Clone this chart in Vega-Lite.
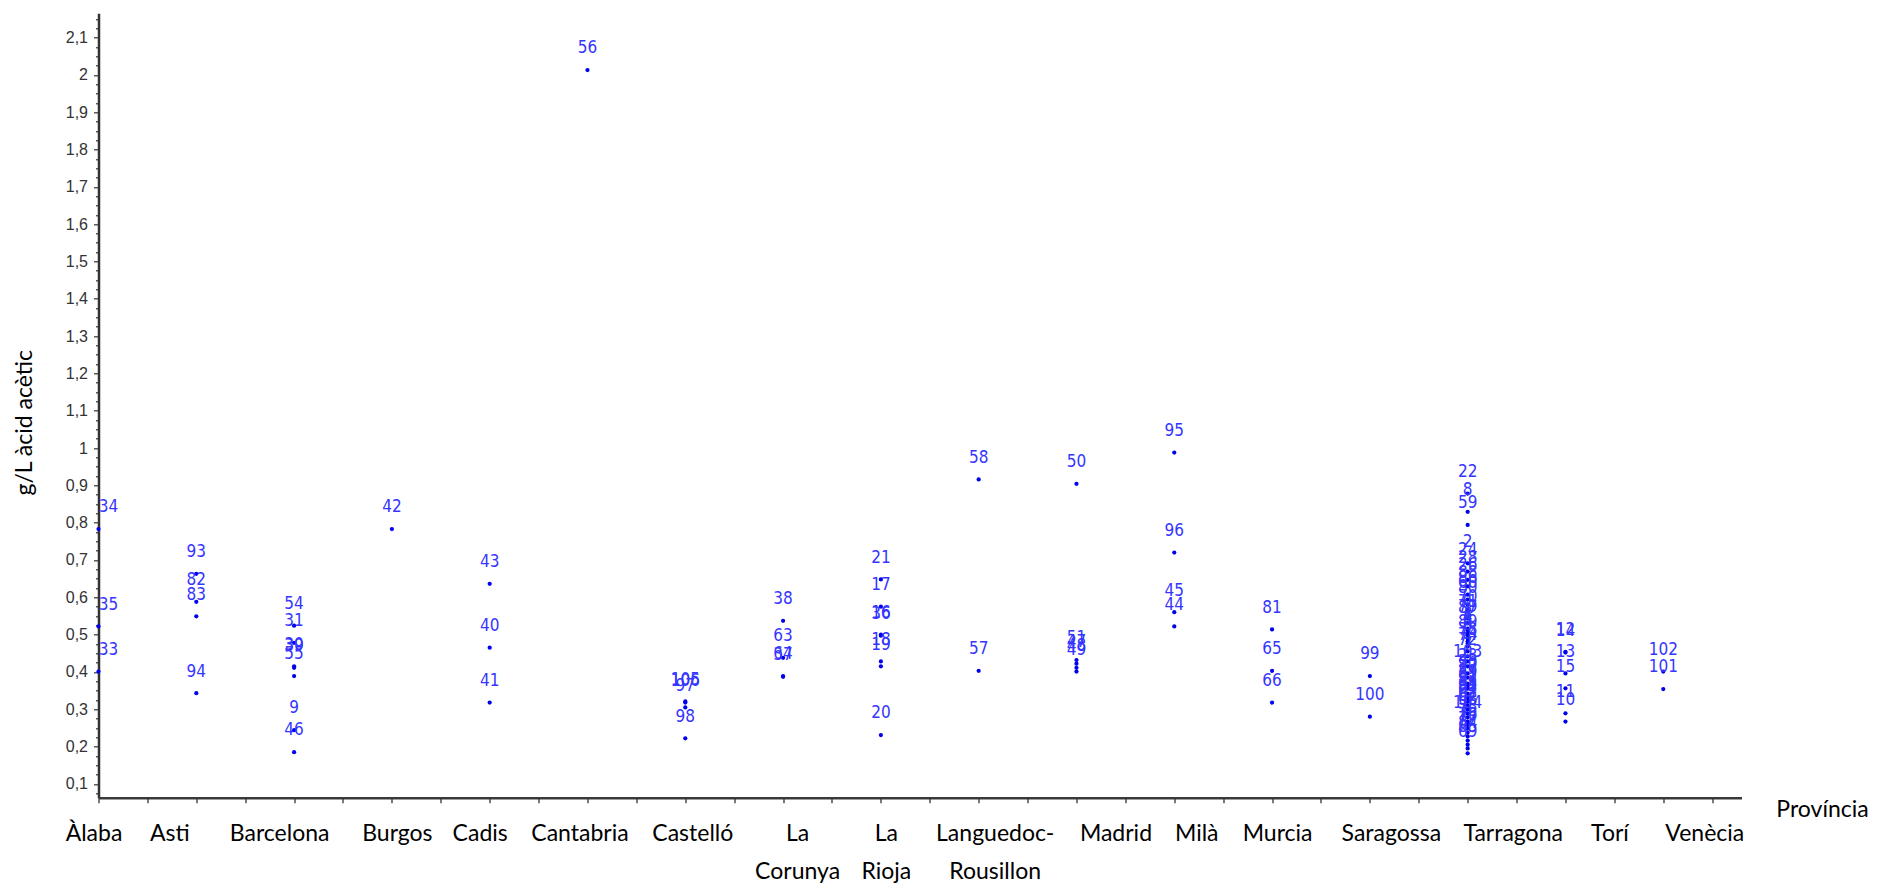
{
  "$schema": "https://vega.github.io/schema/vega-lite/v6.json",
  "width": 1643,
  "height": 784.4,
  "autosize": {"type": "none"},
  "padding": {"left": 98.5, "top": 13.3, "right": 136.5, "bottom": 87.3},
  "background": "white",
  "config": {"view": {"stroke": null}},
  "data": {"values": [
    {"Provincia": "Àlaba", "acid": 0.783, "id": 34},
    {"Provincia": "Àlaba", "acid": 0.522, "id": 35},
    {"Provincia": "Àlaba", "acid": 0.401, "id": 33},
    {"Provincia": "Asti", "acid": 0.663, "id": 93},
    {"Provincia": "Asti", "acid": 0.588, "id": 82},
    {"Provincia": "Asti", "acid": 0.549, "id": 83},
    {"Provincia": "Asti", "acid": 0.343, "id": 94},
    {"Provincia": "Barcelona", "acid": 0.524, "id": 54},
    {"Provincia": "Barcelona", "acid": 0.478, "id": 31},
    {"Provincia": "Barcelona", "acid": 0.415, "id": 30},
    {"Provincia": "Barcelona", "acid": 0.411, "id": 39},
    {"Provincia": "Barcelona", "acid": 0.389, "id": 55},
    {"Provincia": "Barcelona", "acid": 0.244, "id": 9},
    {"Provincia": "Barcelona", "acid": 0.185, "id": 46},
    {"Provincia": "Burgos", "acid": 0.783, "id": 42},
    {"Provincia": "Cadis", "acid": 0.636, "id": 43},
    {"Provincia": "Cadis", "acid": 0.465, "id": 40},
    {"Provincia": "Cadis", "acid": 0.318, "id": 41},
    {"Provincia": "Cantabria", "acid": 2.013, "id": 56},
    {"Provincia": "Castelló", "acid": 0.321, "id": 105},
    {"Provincia": "Castelló", "acid": 0.318, "id": 106},
    {"Provincia": "Castelló", "acid": 0.305, "id": 97},
    {"Provincia": "Castelló", "acid": 0.222, "id": 98},
    {"Provincia": "La Corunya", "acid": 0.537, "id": 38},
    {"Provincia": "La Corunya", "acid": 0.438, "id": 63},
    {"Provincia": "La Corunya", "acid": 0.389, "id": 64},
    {"Provincia": "La Corunya", "acid": 0.387, "id": 37},
    {"Provincia": "La Rioja", "acid": 0.648, "id": 21},
    {"Provincia": "La Rioja", "acid": 0.575, "id": 17},
    {"Provincia": "La Rioja", "acid": 0.5, "id": 16},
    {"Provincia": "La Rioja", "acid": 0.497, "id": 36},
    {"Provincia": "La Rioja", "acid": 0.428, "id": 18},
    {"Provincia": "La Rioja", "acid": 0.415, "id": 19},
    {"Provincia": "La Rioja", "acid": 0.231, "id": 20},
    {"Provincia": "Languedoc-Rousillon", "acid": 0.916, "id": 58},
    {"Provincia": "Languedoc-Rousillon", "acid": 0.403, "id": 57},
    {"Provincia": "Madrid", "acid": 0.904, "id": 50},
    {"Provincia": "Madrid", "acid": 0.432, "id": 51},
    {"Provincia": "Madrid", "acid": 0.422, "id": 47},
    {"Provincia": "Madrid", "acid": 0.411, "id": 48},
    {"Provincia": "Madrid", "acid": 0.401, "id": 49},
    {"Provincia": "Milà", "acid": 0.988, "id": 95},
    {"Provincia": "Milà", "acid": 0.72, "id": 96},
    {"Provincia": "Milà", "acid": 0.56, "id": 45},
    {"Provincia": "Milà", "acid": 0.522, "id": 44},
    {"Provincia": "Murcia", "acid": 0.514, "id": 81},
    {"Provincia": "Murcia", "acid": 0.403, "id": 65},
    {"Provincia": "Murcia", "acid": 0.318, "id": 66},
    {"Provincia": "Saragossa", "acid": 0.389, "id": 99},
    {"Provincia": "Saragossa", "acid": 0.28, "id": 100},
    {"Provincia": "Tarragona", "acid": 0.878, "id": 22},
    {"Provincia": "Tarragona", "acid": 0.829, "id": 8},
    {"Provincia": "Tarragona", "acid": 0.794, "id": 59},
    {"Provincia": "Tarragona", "acid": 0.691, "id": 2},
    {"Provincia": "Tarragona", "acid": 0.669, "id": 24},
    {"Provincia": "Tarragona", "acid": 0.647, "id": 28},
    {"Provincia": "Tarragona", "acid": 0.629, "id": 26},
    {"Provincia": "Tarragona", "acid": 0.607, "id": 88},
    {"Provincia": "Tarragona", "acid": 0.594, "id": 86},
    {"Provincia": "Tarragona", "acid": 0.581, "id": 60},
    {"Provincia": "Tarragona", "acid": 0.567, "id": 80},
    {"Provincia": "Tarragona", "acid": 0.543, "id": 70},
    {"Provincia": "Tarragona", "acid": 0.53, "id": 71},
    {"Provincia": "Tarragona", "acid": 0.516, "id": 79},
    {"Provincia": "Tarragona", "acid": 0.512, "id": 87},
    {"Provincia": "Tarragona", "acid": 0.505, "id": 1},
    {"Provincia": "Tarragona", "acid": 0.498, "id": 3},
    {"Provincia": "Tarragona", "acid": 0.49, "id": 4},
    {"Provincia": "Tarragona", "acid": 0.482, "id": 5},
    {"Provincia": "Tarragona", "acid": 0.476, "id": 89},
    {"Provincia": "Tarragona", "acid": 0.468, "id": 6},
    {"Provincia": "Tarragona", "acid": 0.455, "id": 78},
    {"Provincia": "Tarragona", "acid": 0.442, "id": 74},
    {"Provincia": "Tarragona", "acid": 0.428, "id": 72},
    {"Provincia": "Tarragona", "acid": 0.415, "id": 7},
    {"Provincia": "Tarragona", "acid": 0.396, "id": 103},
    {"Provincia": "Tarragona", "acid": 0.385, "id": 23},
    {"Provincia": "Tarragona", "acid": 0.369, "id": 25},
    {"Provincia": "Tarragona", "acid": 0.362, "id": 90},
    {"Provincia": "Tarragona", "acid": 0.355, "id": 27},
    {"Provincia": "Tarragona", "acid": 0.342, "id": 29},
    {"Provincia": "Tarragona", "acid": 0.331, "id": 32},
    {"Provincia": "Tarragona", "acid": 0.325, "id": 91},
    {"Provincia": "Tarragona", "acid": 0.32, "id": 52},
    {"Provincia": "Tarragona", "acid": 0.31, "id": 53},
    {"Provincia": "Tarragona", "acid": 0.303, "id": 92},
    {"Provincia": "Tarragona", "acid": 0.299, "id": 61},
    {"Provincia": "Tarragona", "acid": 0.288, "id": 62},
    {"Provincia": "Tarragona", "acid": 0.278, "id": 67},
    {"Provincia": "Tarragona", "acid": 0.267, "id": 68},
    {"Provincia": "Tarragona", "acid": 0.258, "id": 104},
    {"Provincia": "Tarragona", "acid": 0.248, "id": 73},
    {"Provincia": "Tarragona", "acid": 0.237, "id": 75},
    {"Provincia": "Tarragona", "acid": 0.227, "id": 76},
    {"Provincia": "Tarragona", "acid": 0.216, "id": 77},
    {"Provincia": "Tarragona", "acid": 0.205, "id": 84},
    {"Provincia": "Tarragona", "acid": 0.195, "id": 85},
    {"Provincia": "Tarragona", "acid": 0.182, "id": 69},
    {"Provincia": "Torí", "acid": 0.454, "id": 12},
    {"Provincia": "Torí", "acid": 0.452, "id": 14},
    {"Provincia": "Torí", "acid": 0.396, "id": 13},
    {"Provincia": "Torí", "acid": 0.356, "id": 15},
    {"Provincia": "Torí", "acid": 0.289, "id": 11},
    {"Provincia": "Torí", "acid": 0.267, "id": 10},
    {"Provincia": "Venècia", "acid": 0.401, "id": 102},
    {"Provincia": "Venècia", "acid": 0.354, "id": 101}
  ]},
  "layer": [
    {
      "encoding": {
        "x": {
          "field": "Provincia", "type": "nominal",
          "sort": ["Àlaba","Asti","Barcelona","Burgos","Cadis","Cantabria","Castelló","La Corunya","La Rioja","Languedoc-Rousillon","Madrid","Milà","Murcia","Saragossa","Tarragona","Torí","Venècia"],
          "scale": {"type": "point", "padding": 0.4, "align": 0},
          "axis": {
            "orient": "bottom",
            "labelAngle": 0,
            "labelExpr": "datum.value == 'Languedoc-Rousillon' ? ['Languedoc-', 'Rousillon'] : split(datum.value, ' ')",
            "labelFont": "Lato",
            "labelFontSize": 23,
            "labelColor": "black",
            "labelBaseline": "alphabetic",
            "labelPadding": 38,
            "labelLineHeight": 37.6,
            "labelOverlap": false,
            "labelLimit": 0,
            "labelOffset": {"condition": [
              {"test": "datum.value == 'Àlaba'", "value": -5},
              {"test": "datum.value == 'Asti'", "value": -27},
              {"test": "datum.value == 'Barcelona'", "value": -15},
              {"test": "datum.value == 'Burgos'", "value": 5},
              {"test": "datum.value == 'Cadis'", "value": -10},
              {"test": "datum.value == 'Cantabria'", "value": -8},
              {"test": "datum.value == 'Castelló'", "value": 7},
              {"test": "datum.value == 'La Corunya'", "value": 14},
              {"test": "datum.value == 'La Rioja'", "value": 5},
              {"test": "datum.value == 'Languedoc-Rousillon'", "value": 16},
              {"test": "datum.value == 'Madrid'", "value": 39},
              {"test": "datum.value == 'Milà'", "value": 22},
              {"test": "datum.value == 'Murcia'", "value": 5},
              {"test": "datum.value == 'Saragossa'", "value": 21},
              {"test": "datum.value == 'Tarragona'", "value": 45},
              {"test": "datum.value == 'Torí'", "value": 44},
              {"test": "datum.value == 'Venècia'", "value": 41}
            ], "value": 0},
            "tickSize": 5,
            "tickColor": "#333333",
            "tickWidth": 1.3,
            "domainColor": "#3a3a3a",
            "domainWidth": 2.5,
            "grid": false,
            "title": "Província",
            "titleX": 1723.5,
            "titleY": 19,
            "titleAlign": "center",
            "titleBaseline": "alphabetic",
            "titleFont": "Lato",
            "titleFontSize": 23,
            "titleFontWeight": "normal",
            "titleColor": "black"
          }
        },
        "y": {
          "field": "acid", "type": "quantitative",
          "scale": {"domain": [0.063, 2.165], "nice": false, "zero": false},
          "axis": {
            "values": [0.075,0.1,0.125,0.15,0.175,0.2,0.225,0.25,0.275,0.3,0.325,0.35,0.375,0.4,0.425,0.45,0.475,0.5,0.525,0.55,0.575,0.6,0.625,0.65,0.675,0.7,0.725,0.75,0.775,0.8,0.825,0.85,0.875,0.9,0.925,0.95,0.975,1,1.025,1.05,1.075,1.1,1.125,1.15,1.175,1.2,1.225,1.25,1.275,1.3,1.325,1.35,1.375,1.4,1.425,1.45,1.475,1.5,1.525,1.55,1.575,1.6,1.625,1.65,1.675,1.7,1.725,1.75,1.775,1.8,1.825,1.85,1.875,1.9,1.925,1.95,1.975,2,2.025,2.05,2.075,2.1,2.125,2.15],
            "labelExpr": "abs(datum.value*10 - round(datum.value*10)) < 0.01 ? replace(format(datum.value, '.1~f'), '.', ',') : ''",
            "tickSize": {"condition": {"test": "abs(datum.value*10 - round(datum.value*10)) < 0.01", "value": 5}, "value": 3},
            "tickColor": "#333333",
            "tickWidth": 1.2,
            "labelFont": "Liberation Sans",
            "labelFontSize": 16,
            "labelColor": "#333333",
            "labelPadding": 6,
            "labelOverlap": false,
            "labelFlush": false,
            "labelBound": false,
            "domainColor": "#333333",
            "domainWidth": 2.5,
            "grid": false,
            "title": "g/L àcid acètic",
            "titleX": -66.7,
            "titleY": 409,
            "titleAngle": -90,
            "titleAlign": "center",
            "titleBaseline": "alphabetic",
            "titleFont": "Lato",
            "titleFontSize": 23,
            "titleFontWeight": "normal",
            "titleColor": "black"
          }
        }
      },
      "layer": [
        {"mark": {"type": "circle", "size": 18, "color": "#0000ee", "opacity": 1}},
        {
          "mark": {"type": "text", "dy": -21.7, "baseline": "middle", "align": "center", "font": "Liberation Sans Narrow, DejaVu Sans Condensed, Liberation Sans", "fontSize": 17, "color": "#3535ff", "dx": {"expr": "datum.Provincia == 'Àlaba' ? 10 : 0"}},
          "encoding": {"text": {"field": "id", "type": "nominal"}}
        }
      ]
    },
    {
      "mark": {"type": "point", "opacity": 0},
      "encoding": {
        "x": {
          "datum": 0, "type": "quantitative",
          "scale": {"domain": [0, 16.8], "nice": false, "zero": false},
          "axis": {"orient": "bottom", "values": [0.5,1.5,2.5,3.5,4.5,5.5,6.5,7.5,8.5,9.5,10.5,11.5,12.5,13.5,14.5,15.5,16.5], "labels": false, "domain": false, "grid": false, "tickSize": 5, "tickColor": "#333333", "tickWidth": 1.3, "title": null}
        }
      }
    }
  ],
  "resolve": {"scale": {"x": "independent"}, "axis": {"x": "independent"}}
}
